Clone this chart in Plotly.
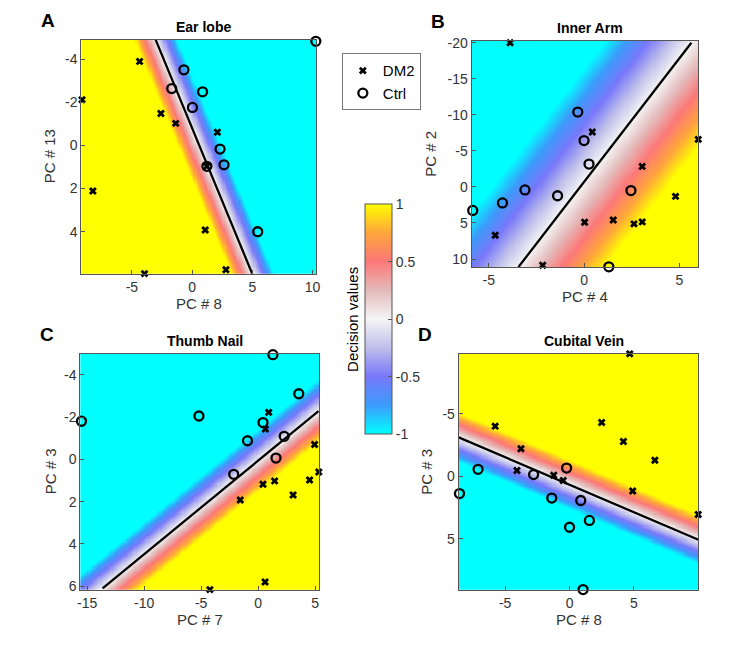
import numpy as np
import plotly.graph_objects as go

# page body has an 8px margin, so the figure is laid out in screen pixels minus OFF
OFF = 8
W, H = 747 - OFF, 646 - OFF

# --- data ---
# A: Ear lobe (PC #8 vs PC #13)
ear_dm2_x = [-4.36, -9.14, -2.59, -1.36, 2.10, -8.24, 1.09, 2.81, -3.95, 1.23]
ear_dm2_y = [-3.89, -2.11, -1.48, -1.02, -0.61, 2.11, 3.92, 5.76, 5.94, 0.97]
ear_ctrl_x = [-0.68, -1.69, 0.87, 0.03, 2.32, 2.65, 5.45, 10.28, 1.23]
ear_ctrl_y = [-3.50, -2.63, -2.48, -1.76, 0.17, 0.90, 4.00, -4.82, 0.97]
ear_line_x = [-3.03, 5.0]
ear_line_y = [-4.9, 5.95]
ear_edge = [-1.2, 0.0]      # point where decision value reaches +1

# B: Inner Arm (PC #4 vs PC #2)
arm_dm2_x = [-3.88, 0.43, 5.99, 3.05, 4.80, 0.03, 1.53, 2.62, 3.05, -4.66, -2.17]
arm_dm2_y = [-20.0, -7.61, -6.6, -2.85, 1.31, 4.89, 4.58, 5.12, 4.85, 6.71, 10.87]
arm_ctrl_x = [-0.33, 0.0, 0.26, -3.10, -1.39, -4.28, -5.84, 2.46, 1.30]
arm_ctrl_y = [-10.38, -6.43, -3.17, 0.41, 1.22, 2.22, 3.26, 0.5, 11.08]
arm_line_x = [-3.44, 5.63]
arm_line_y = [11.1, -20.0]
arm_edge = [4.4, 0.0]

# C: Thumb Nail (PC #7 vs PC #3)
thumb_dm2_x = [0.93, 0.64, 4.96, 5.33, 0.43, 1.45, 4.52, 3.07, -1.57, 0.61, -4.23]
thumb_dm2_y = [-2.22, -1.43, -0.70, 0.60, 1.18, 1.02, 0.98, 1.69, 1.92, 5.80, 6.16]
thumb_ctrl_x = [1.30, 3.57, -15.5, -5.19, 0.43, 2.29, -0.93, 1.57, -2.14]
thumb_ctrl_y = [-4.95, -3.10, -1.80, -2.05, -1.74, -1.09, -0.88, -0.06, 0.71]
thumb_line_x = [-13.65, 5.3]
thumb_line_y = [6.1, -2.28]
thumb_edge = [0.0, 1.55]

# D: Cubital Vein (PC #8 vs PC #3)
vein_dm2_x = [4.67, -5.77, 2.49, 4.18, 6.62, -3.77, -4.08, -1.23, -0.49, 4.90, 9.98]
vein_dm2_y = [-9.78, -4.0, -4.29, -2.77, -1.28, -2.20, -0.45, -0.08, 0.34, 1.18, 3.06]
vein_ctrl_x = [-7.10, -8.54, -2.79, -0.23, -1.38, 0.87, 0.0, 1.54, 1.05]
vein_ctrl_y = [-0.55, 1.39, -0.13, -0.65, 1.75, 1.94, 4.08, 3.53, 9.06]
vein_line_x = [-8.6, 10.0]
vein_line_y = [-3.1, 5.08]
vein_edge = [0.0, -1.3]

cb_ticks = [-1, -0.5, 0, 0.5, 1]

# panel setup: data, axis ranges, ticks, box in screen pixels, labels
panels = [
    dict(dx=ear_dm2_x, dy=ear_dm2_y, cx=ear_ctrl_x, cy=ear_ctrl_y, lx=ear_line_x, ly=ear_line_y,
         edge=ear_edge, xr=[-9.2, 10.3], yr=[5.95, -4.9], xt=[-5, 0, 5, 10], yt=[-4, -2, 0, 2, 4],
         box=[79, 316, 34, 272], title="Ear lobe", letter="A", xl="PC # 8", yl="PC # 13", ylx=47),
    dict(dx=arm_dm2_x, dy=arm_dm2_y, cx=arm_ctrl_x, cy=arm_ctrl_y, lx=arm_line_x, ly=arm_line_y,
         edge=arm_edge, xr=[-5.9, 6.0], yr=[11.1, -20.3], xt=[-5, 0, 5], yt=[-20, -15, -10, -5, 0, 5, 10],
         box=[473, 702, 35, 265], title="Inner Arm", letter="B", xl="PC # 4", yl="PC # 2", ylx=432),
    dict(dx=thumb_dm2_x, dy=thumb_dm2_y, cx=thumb_ctrl_x, cy=thumb_ctrl_y, lx=thumb_line_x, ly=thumb_line_y,
         edge=thumb_edge, xr=[-15.6, 5.35], yr=[6.17, -5.0], xt=[-15, -10, -5, 0, 5], yt=[-4, -2, 0, 2, 4, 6],
         box=[78, 319, 353, 593], title="Thumb Nail", letter="C", xl="PC # 7", yl="PC # 3", ylx=48),
    dict(dx=vein_dm2_x, dy=vein_dm2_y, cx=vein_ctrl_x, cy=vein_ctrl_y, lx=vein_line_x, ly=vein_line_y,
         edge=vein_edge, xr=[-8.6, 10.0], yr=[9.08, -9.8], xt=[-5, 0, 5], yt=[-5, 0, 5],
         box=[460, 702, 353, 593], title="Cubital Vein", letter="D", xl="PC # 8", yl="PC # 3", ylx=428),
]

colorscale = [
    [0.0, "rgb(0,255,255)"],
    [0.125, "rgb(60,155,250)"],
    [0.25, "rgb(120,120,250)"],
    [0.375, "rgb(190,190,235)"],
    [0.5, "rgb(245,245,245)"],
    [0.625, "rgb(228,185,185)"],
    [0.75, "rgb(252,120,120)"],
    [0.875, "rgb(255,165,60)"],
    [1.0, "rgb(255,255,0)"],
]

FONT = "Liberation Sans, Arial, sans-serif"
AX_COL = "#555555"
TXT_COL = "#333333"


def sx(p):
    return (p - OFF) / W


def sy(p):
    return 1 - (p - OFF) / H


def lab(v):
    return str(v)  # plain hyphen minus, as in the original


fig = go.Figure()
annotations = []
layout_axes = {}


def note(text, x, y, size, color=TXT_COL, angle=0):
    annotations.append(dict(text=text, x=sx(x), y=sy(y), xref="paper", yref="paper",
                            xanchor="center", yanchor="middle", showarrow=False, textangle=angle,
                            font=dict(family=FONT, size=size, color=color)))


for i, p in enumerate(panels):
    n = "" if i == 0 else str(i + 1)
    xa, ya = "x" + n, "y" + n

    # decision surface of a linear classifier: 0 on the line, +1 at the edge point
    x0, y0 = p["lx"][0], p["ly"][0]
    ddx, ddy = p["lx"][1] - x0, p["ly"][1] - y0
    gx = np.linspace(min(p["xr"]), max(p["xr"]), 220)
    gy = np.linspace(min(p["yr"]), max(p["yr"]), 220)
    XX, YY = np.meshgrid(gx, gy)
    cross = (XX - x0) * ddy - (YY - y0) * ddx
    ref = (p["edge"][0] - x0) * ddy - (p["edge"][1] - y0) * ddx
    Z = np.clip(cross / ref, -1, 1)

    fig.add_trace(go.Heatmap(x=gx, y=gy, z=Z, coloraxis="coloraxis", xaxis=xa, yaxis=ya,
                             hoverinfo="skip"))
    fig.add_trace(go.Scatter(x=p["lx"], y=p["ly"], mode="lines", line=dict(color="black", width=2.3),
                             xaxis=xa, yaxis=ya, showlegend=False))
    fig.add_trace(go.Scatter(x=p["dx"], y=p["dy"], mode="markers", name="DM2",
                             marker=dict(symbol="x", size=7, color="black", line=dict(width=0)),
                             xaxis=xa, yaxis=ya, cliponaxis=False, showlegend=(i == 0)))
    fig.add_trace(go.Scatter(x=p["cx"], y=p["cy"], mode="markers", name="Ctrl",
                             marker=dict(symbol="circle-open", size=9, color="black",
                                         line=dict(width=2.3, color="black")),
                             xaxis=xa, yaxis=ya, cliponaxis=False, showlegend=(i == 0)))

    l, r, t, b = p["box"]
    common = dict(showline=True, mirror=True, linecolor=AX_COL, linewidth=1, ticks="inside",
                  ticklen=4, tickcolor=AX_COL, showgrid=False, zeroline=False,
                  tickfont=dict(family=FONT, size=14, color=TXT_COL))
    layout_axes["xaxis" + n] = dict(common, domain=[sx(l), sx(r)], range=p["xr"], tickvals=p["xt"],
                                    ticktext=[lab(v) for v in p["xt"]], anchor=ya)
    layout_axes["yaxis" + n] = dict(common, domain=[sy(b), sy(t)], range=p["yr"], tickvals=p["yt"],
                                    ticktext=[lab(v) for v in p["yt"]], anchor=xa)

    cx_mid = (l + r) / 2
    note("<b>%s</b>" % p["title"], cx_mid + 5, t - 13, 14, "black")
    note("<b>%s</b>" % p["letter"], l - 34, t - 19, 19, "black")
    note(p["xl"], cx_mid, b + 30, 15)
    note(p["yl"], p["ylx"], (t + b) / 2, 15, angle=-90)

note("Decision values", 352, 318, 15, "black", angle=-90)

fig.update_layout(
    width=W, height=H, margin=dict(l=0, r=0, t=0, b=0),
    paper_bgcolor="white", plot_bgcolor="white",
    coloraxis=dict(colorscale=colorscale, cmin=-1, cmax=1,
                   colorbar=dict(x=sx(365), xanchor="left", xpad=0, y=sy(318), yanchor="middle",
                                 len=230, lenmode="pixels", thickness=27, thicknessmode="pixels",
                                 ypad=0, outlinecolor=AX_COL, outlinewidth=1, tickvals=cb_ticks,
                                 ticktext=[lab(v) for v in cb_ticks],
                                 ticks="inside", ticklen=4, tickcolor=AX_COL,
                                 tickfont=dict(family=FONT, size=14, color=TXT_COL))),
    legend=dict(x=sx(342), y=sy(48), xanchor="left", yanchor="top", bgcolor="white",
                bordercolor="#777777", borderwidth=1, itemwidth=30,
                font=dict(family=FONT, size=15, color="black")),
    annotations=annotations,
    **layout_axes,
)

fig.write_html("out.html")
